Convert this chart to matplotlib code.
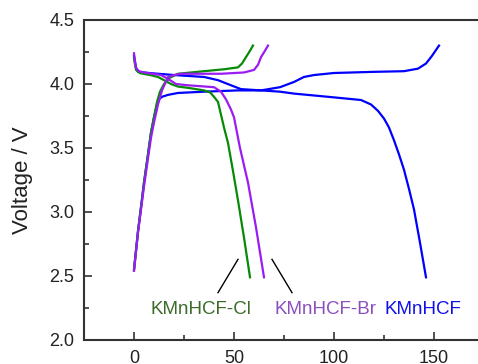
import matplotlib
matplotlib.use("Agg")
import matplotlib.pyplot as plt
from matplotlib.ticker import MultipleLocator

plt.rcParams["font.family"] = ["Liberation Sans", "DejaVu Sans"]

# KMnHCF (blue)
blue_charge_x = [0, 2, 4, 5, 7, 8.5, 10, 11.5, 12.5, 14, 17, 22, 35, 52, 63.5, 73, 80, 85,
                 90, 100, 120, 135, 142, 146, 149, 152.5]
blue_charge_y = [2.55, 2.85, 3.1, 3.23, 3.45, 3.62, 3.74, 3.84, 3.88, 3.90, 3.915, 3.93, 3.94,
                 3.95, 3.95, 3.975, 4.016, 4.055, 4.07, 4.086, 4.095, 4.10, 4.12, 4.16, 4.22, 4.30]
blue_dis_x = [0, 1, 2, 8, 20, 35, 42, 48.5, 53.5, 63.5, 73, 80, 97, 113.5, 118.5, 122, 125,
              127.5, 130, 132.5, 135, 137.5, 140, 143, 146]
blue_dis_y = [4.22, 4.13, 4.095, 4.085, 4.07, 4.055, 4.03, 3.99, 3.96, 3.95, 3.94, 3.925, 3.90,
              3.875, 3.84, 3.79, 3.73, 3.66, 3.56, 3.45, 3.33, 3.18, 3.02, 2.76, 2.49]

# KMnHCF-Cl (green)
green_charge_x = [0, 2, 4, 5, 7, 8.5, 10, 11.5, 13, 15, 18, 22, 35, 45, 52, 54, 56, 58, 59.5]
green_charge_y = [2.55, 2.85, 3.1, 3.23, 3.45, 3.62, 3.74, 3.86, 3.94, 4.0, 4.05, 4.08, 4.1,
                  4.115, 4.13, 4.16, 4.21, 4.26, 4.30]
green_dis_x = [0, 1, 3, 8, 12, 15, 18.5, 22, 27, 35, 38, 40, 42, 43.5, 45, 47, 49.5, 52, 55, 58]
green_dis_y = [4.2, 4.11, 4.085, 4.07, 4.055, 4.03, 4.0, 3.98, 3.97, 3.95, 3.935, 3.90, 3.86,
               3.76, 3.66, 3.54, 3.32, 3.09, 2.8, 2.49]

# KMnHCF-Br (purple)
purple_charge_x = [0, 2, 4, 5, 7, 8.5, 10, 12, 14, 17, 20, 23.5, 43.5, 55, 60, 62, 63.5, 65.5, 67]
purple_charge_y = [2.54, 2.84, 3.08, 3.2, 3.42, 3.58, 3.70, 3.84, 3.95, 4.055, 4.07, 4.08, 4.08,
                   4.09, 4.11, 4.15, 4.21, 4.26, 4.30]
purple_dis_x = [0, 0.5, 1, 2.5, 5, 13.5, 17, 21, 27, 40, 43.5, 46, 48.5, 50, 53, 57, 61, 65]
purple_dis_y = [4.24, 4.17, 4.125, 4.1, 4.09, 4.07, 4.04, 4.0, 3.99, 3.975, 3.94, 3.88, 3.8,
                3.74, 3.5, 3.23, 2.88, 2.49]

labels = ["KMnHCF-Cl", "KMnHCF-Br", "KMnHCF"]
label_x = [8.0, 70.5, 125]
label_y = 2.235
leader_cl = ([52, 42], [2.63, 2.37])
leader_br = ([69, 79], [2.63, 2.37])

c_blue = "#0000ff"
c_green = "#078a07"
c_purple = "#9a1cf2"
text_colors = ["#3d6b2a", "#8b4fc0", "#1010e8"]

fig = plt.figure(figsize=(4.78, 3.64), dpi=100)
ax = fig.add_axes([84 / 478, 24 / 364, 400 / 478, 320 / 364])

lw = 1.6
ax.plot(blue_charge_x, blue_charge_y, color=c_blue, lw=lw)
ax.plot(blue_dis_x, blue_dis_y, color=c_blue, lw=lw)
ax.plot(green_charge_x, green_charge_y, color=c_green, lw=lw)
ax.plot(green_dis_x, green_dis_y, color=c_green, lw=lw)
ax.plot(purple_charge_x, purple_charge_y, color=c_purple, lw=lw)
ax.plot(purple_dis_x, purple_dis_y, color=c_purple, lw=lw)

ax.plot(*leader_cl, color="black", lw=1.0)
ax.plot(*leader_br, color="black", lw=1.0)

for name, lx, tc in zip(labels, label_x, text_colors):
    ax.text(lx, label_y, name, color=tc, fontsize=13.5, ha="left", va="center")

ax.set_xlim(-25, 175)
ax.set_ylim(2.0, 4.5)
ax.xaxis.set_major_locator(MultipleLocator(50))
ax.xaxis.set_minor_locator(MultipleLocator(25))
ax.yaxis.set_major_locator(MultipleLocator(0.5))
ax.yaxis.set_minor_locator(MultipleLocator(0.25))
ax.yaxis.set_major_formatter(plt.FormatStrFormatter("%.1f"))

for side in ["left", "bottom", "top"]:
    ax.spines[side].set_linewidth(1.5)
    ax.spines[side].set_color("#333333")
ax.spines["right"].set_visible(False)

ax.tick_params(which="both", direction="in", top=False, right=False, colors="#333333",
               labelcolor="#222222", labelsize=13, width=1.2)
ax.tick_params(which="major", length=6, pad=7)
ax.tick_params(which="minor", length=3.5)

ax.set_ylabel("Voltage / V", fontsize=16, color="#222222", labelpad=12)

fig.savefig("out.png", dpi=100)
